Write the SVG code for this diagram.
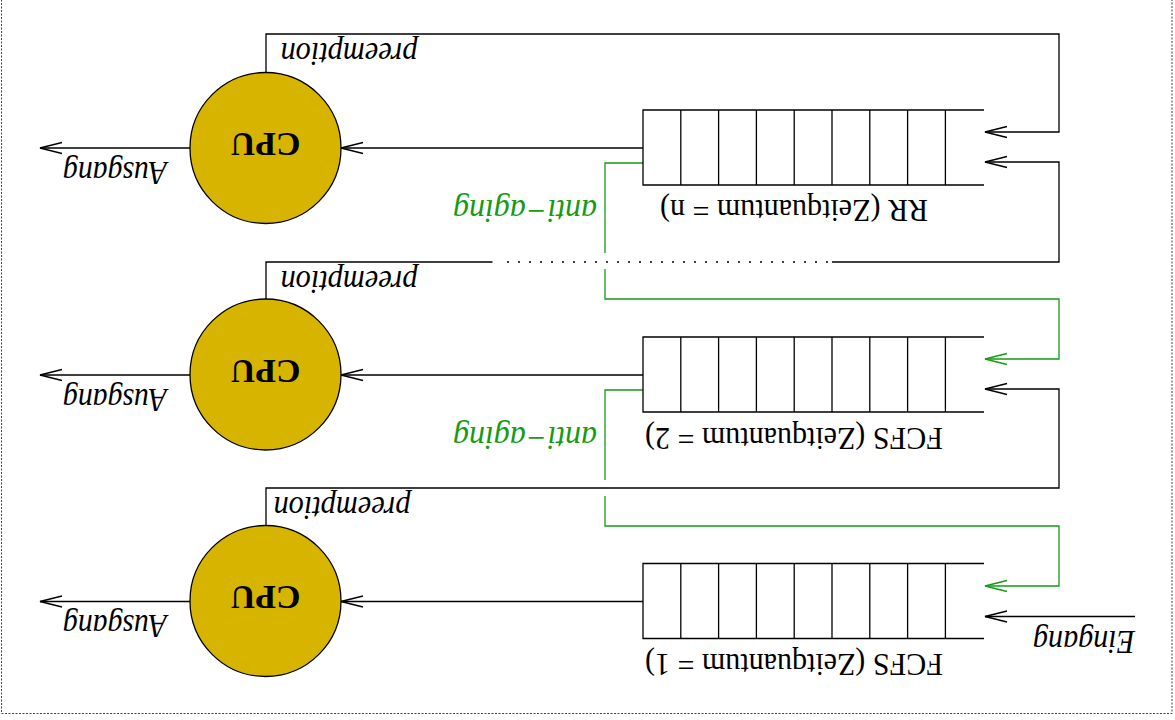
<svg xmlns="http://www.w3.org/2000/svg" width="1175" height="720" viewBox="0 0 1175 720">
  <style>
    .frame { fill: none; stroke: #444; stroke-width: 1; stroke-dasharray: 2 1.5; }
    .cpu { fill: #d6b400; stroke: #000; stroke-width: 1.3; }
    .cell { fill: none; stroke: #000; stroke-width: 1.3; }
    .wire { fill: none; stroke: #000; stroke-width: 1.3; }
    .wire.green { stroke: #159b15; }
    .dots { fill: none; stroke: #000; stroke-width: 1.3; stroke-dasharray: 2 9; }
    .arrow { marker-end: url(#head); }
    .arrow.green { marker-end: url(#head-green); }
    text { font-family: "Liberation Serif", "Times New Roman", serif; fill: #000; }
    .cpu-label { font-weight: bold; font-size: 34px; }
    .queue-label { font-size: 31px; }
    .tag { font-style: italic; font-size: 33px; }
    .tag.green { fill: #159b15; }
  </style>
  <defs>
    <marker id="head" markerUnits="userSpaceOnUse" viewBox="-24 -8 26 16" markerWidth="26" markerHeight="16" refX="0" refY="0" orient="auto" overflow="visible">
      <path d="M-22,-5.5 L0,0 L-22,5.5" fill="none" stroke="#000" stroke-width="1.3"/>
    </marker>
    <marker id="head-green" markerUnits="userSpaceOnUse" viewBox="-24 -8 26 16" markerWidth="26" markerHeight="16" refX="0" refY="0" orient="auto" overflow="visible">
      <path d="M-22,-5.5 L0,0 L-22,5.5" fill="none" stroke="#159b15" stroke-width="1.3"/>
    </marker>
    <!-- open-ended queue: eight slots plus a trailing half-open slot -->
    <g id="queue-shape">
      <path class="cell" d="M341,0 H0 V75 H341 M37.8,0 V75 M75.6,0 V75 M113.4,0 V75 M151.2,0 V75 M189,0 V75 M226.8,0 V75 M264.6,0 V75 M302.4,0 V75"/>
    </g>
  </defs>

  <rect class="frame" x="1.5" y="-10" width="1170.5" height="723.5"/>

  <!-- connectors -->
  <g id="connectors">
    <!-- queue to CPU -->
    <path class="wire arrow" d="M643,148 H341"/>
    <path class="wire arrow" d="M643,375 H341"/>
    <path class="wire arrow" d="M643,601.5 H341"/>
    <!-- CPU output -->
    <path class="wire arrow" d="M190,148 H40"/>
    <path class="wire arrow" d="M190,375 H40"/>
    <path class="wire arrow" d="M190,601.5 H40"/>
    <!-- preemption loops -->
    <path class="wire arrow" d="M266,72.5 V34 H1059 V132 H985"/>
    <path class="wire" d="M266,299 V262 H492.5"/>
    <path class="dots" d="M507,262 H830"/>
    <path class="wire arrow" d="M832,262 H1059 V162 H985"/>
    <path class="wire arrow" d="M266,525.5 V488 H1059 V389 H985"/>
    <!-- anti-aging promotions -->
    <path class="wire green" d="M643,163 H605 V253"/>
    <path class="wire green arrow" d="M605,269 V299 H1059 V359 H985"/>
    <path class="wire green" d="M643,390 H605 V480"/>
    <path class="wire green arrow" d="M605,496 V526 H1059 V586 H985"/>
    <!-- arrivals -->
    <path class="wire arrow" d="M1135,616.5 H985"/>
  </g>

  <!-- level n: round robin -->
  <g id="queue-rr">
    <use href="#queue-shape" x="643" y="110"/>
    <text class="queue-label" x="794" y="200" text-anchor="middle" textLength="268" lengthAdjust="spacingAndGlyphs" transform="rotate(180 794 200)">RR (Zeitquantum = n)</text>
  </g>
  <g id="cpu-rr">
    <circle class="cpu" cx="265.5" cy="148" r="75.5"/>
    <text class="cpu-label" x="265.5" y="133" text-anchor="middle" transform="rotate(180 265.5 133)">CPU</text>
  </g>

  <!-- level 2 -->
  <g id="queue-fcfs-2">
    <use href="#queue-shape" x="643" y="337"/>
    <text class="queue-label" x="794" y="428" text-anchor="middle" textLength="298" lengthAdjust="spacingAndGlyphs" transform="rotate(180 794 428)">FCFS (Zeitquantum = 2)</text>
  </g>
  <g id="cpu-fcfs-2">
    <circle class="cpu" cx="265.5" cy="374.5" r="75.5"/>
    <text class="cpu-label" x="265.5" y="360" text-anchor="middle" transform="rotate(180 265.5 360)">CPU</text>
  </g>

  <!-- level 1 -->
  <g id="queue-fcfs-1">
    <use href="#queue-shape" x="643" y="563.5"/>
    <text class="queue-label" x="794" y="654" text-anchor="middle" textLength="298" lengthAdjust="spacingAndGlyphs" transform="rotate(180 794 654)">FCFS (Zeitquantum = 1)</text>
  </g>
  <g id="cpu-fcfs-1">
    <circle class="cpu" cx="265.5" cy="601" r="75.5"/>
    <text class="cpu-label" x="265.5" y="586" text-anchor="middle" transform="rotate(180 265.5 586)">CPU</text>
  </g>

  <!-- connector labels -->
  <g id="labels">
    <text class="tag" x="349" y="43" text-anchor="middle" textLength="137" lengthAdjust="spacingAndGlyphs" transform="rotate(180 349 43)">preemption</text>
    <text class="tag" x="349" y="271" text-anchor="middle" textLength="137" lengthAdjust="spacingAndGlyphs" transform="rotate(180 349 271)">preemption</text>
    <text class="tag" x="342" y="497" text-anchor="middle" textLength="137" lengthAdjust="spacingAndGlyphs" transform="rotate(180 342 497)">preemption</text>
    <text class="tag" x="115" y="162" text-anchor="middle" textLength="104" lengthAdjust="spacingAndGlyphs" transform="rotate(180 115 162)">Ausgang</text>
    <text class="tag" x="115" y="389" text-anchor="middle" textLength="104" lengthAdjust="spacingAndGlyphs" transform="rotate(180 115 389)">Ausgang</text>
    <text class="tag" x="115" y="615" text-anchor="middle" textLength="104" lengthAdjust="spacingAndGlyphs" transform="rotate(180 115 615)">Ausgang</text>
    <text class="tag green" x="525" y="200" text-anchor="middle" textLength="144" lengthAdjust="spacingAndGlyphs" transform="rotate(180 525 200)">anti−aging</text>
    <text class="tag green" x="525" y="427" text-anchor="middle" textLength="144" lengthAdjust="spacingAndGlyphs" transform="rotate(180 525 427)">anti−aging</text>
    <text class="tag" x="1084" y="631" text-anchor="middle" textLength="102" lengthAdjust="spacingAndGlyphs" transform="rotate(180 1084 631)">Eingang</text>
  </g>
</svg>
